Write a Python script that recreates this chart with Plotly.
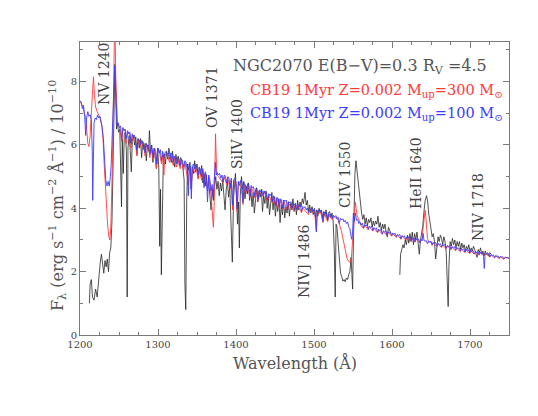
import plotly.graph_objects as go

# ---------------- data ----------------
obs_wave = [1212.0,1213.0,1214.5,1216.0,1218.0,1220.0,1222.0,1224.0,1226.0,1227.5,1229.0,1230.5,1232.0,1233.5,1235.0,1236.5,1238.0,1239.5,
 1241.0,1242.0,1243.0,1244.0,1244.8,1245.8,1246.8,1248.0,1249.5,1251.0,1252.0,1253.2,1254.2,1255.5,1256.8,1258.0,1259.5,1260.5,1261.5,
 1263.0,1264.5,1265.8,1267.0,1268.5,1270.0,1271.5,1273.0,1274.5,1276.0,1277.5,1279.0,1280.5,1282.0,1283.5,1285.0,1286.5,1288.0,1289.0,
 1290.5,1292.0,1293.5,1295.0,1296.5,1298.0,1299.5,1301.0,1302.2,1303.2,1304.3,1305.5,1306.8,1308.0,1309.5,1311.0,1312.5,1314.0,1315.5,
 1317.0,1318.5,1320.0,1321.5,1323.0,1324.5,1326.0,1327.5,1329.0,1330.5,1332.0,1333.5,1334.5,1335.6,1336.8,1338.0,1339.5,1341.0,1342.5,
 1344.0,1345.5,1347.0,1348.5,1350.0,1351.5,1353.0,1354.5,1356.0,1357.5,1359.0,1360.5,1362.0,1363.5,1365.0,1366.5,1368.0,1369.5,1371.0,
 1372.5,1374.0,1375.5,1377.0,1378.5,1380.0,1381.5,1383.0,1384.5,1386.0,1387.5,1389.0,1390.5,1392.0,1393.5,1395.3,1396.8,1398.0,1399.3,
 1400.5,1402.0,1403.3,1404.3,1405.5,1407.0,1408.5,1410.0,1411.5,1413.0,1414.5,1416.0,1417.5,1419.0,1420.5,1422.0,1423.5,1425.0,1426.5,
 1428.0,1429.5,1431.0,1432.5,1434.0,1435.5,1437.0,1438.5,1440.0,1441.5,1443.0,1444.5,1446.0,1447.5,1449.0,1450.5,1452.0,1453.5,1455.0,
 1456.5,1458.0,1459.5,1461.0,1462.5,1464.0,1465.5,1467.0,1468.5,1470.0,1471.5,1473.0,1474.5,1476.0,1477.5,1479.0,1480.5,1482.0,1483.5,
 1485.0,1486.5,1488.5,1490.0,1491.5,1493.0,1494.5,1496.0,1497.5,1499.0,1500.5,1502.0,1503.5,1505.0,1506.5,1508.0,1509.5,1511.0,1512.5,
 1514.0,1515.5,1517.0,1518.5,1520.0,1521.5,1523.0,1524.5,1526.0,1527.2,1528.3,1529.5,1531.0,1532.5,1534.0,1535.5,1537.0,1538.5,1540.0,
 1541.5,1543.0,1544.5,1546.0,1547.5,1548.5,1549.5,1550.5,1551.5,1552.5,1553.8,1555.0,1556.5,1558.0,1559.5,1561.0,1562.5,1564.0,1565.5,
 1567.0,1568.5,1570.0,1571.5,1573.0,1574.5,1576.0,1577.5,1579.0,1580.5,1582.0,1583.5,1585.0,1586.5,1588.0,1589.5,1591.0,1592.5,1594.0,
 1595.5,1597.0,1598.5,1604.0,1610.0,1611.0,1612.5,1614.0,1615.5,1617.0,1618.5,1620.0,1621.5,1623.0,1624.5,1626.0,1627.5,1629.0,1630.5,
 1632.0,1633.5,1635.0,1636.5,1638.0,1639.5,1641.0,1642.5,1644.3,1645.8,1647.0,1648.5,1650.0,1651.5,1653.0,1654.5,1656.0,1657.5,1659.0,
 1660.5,1662.0,1663.5,1665.0,1666.5,1668.0,1669.5,1671.0,1672.0,1673.0,1674.5,1676.0,1677.5,1679.0,1680.5,1682.0,1683.5,1685.0,1686.5,
 1688.0,1689.5,1691.0,1692.5,1694.0,1695.5,1697.0,1698.5,1700.0,1701.5,1703.0,1704.5,1706.0,1707.5,1709.0,1710.5,1712.0,1713.5,1715.0,
 1716.5,1718.0,1719.5,1721.0,1722.5,1724.0,1725.5,1727.0]
obs_flux = [1.00,1.60,1.75,1.20,1.10,1.45,1.20,1.80,2.30,2.55,2.20,1.95,2.35,2.15,2.40,2.00,2.60,2.75,
 3.60,5.20,7.00,8.20,8.55,7.60,6.50,6.70,6.40,6.50,5.60,4.05,6.20,5.10,6.30,6.40,5.80,1.20,5.90,
 6.30,5.80,5.15,6.10,6.30,6.00,6.25,5.70,6.20,5.90,6.20,5.60,6.10,5.85,6.05,5.50,6.00,5.80,6.45,
 5.75,6.00,5.45,5.90,5.60,5.25,5.90,5.30,2.80,4.60,1.90,3.50,5.50,5.70,5.40,5.80,5.55,5.90,5.70,
 5.45,5.80,5.60,5.30,5.70,5.45,5.65,5.35,5.60,5.50,5.25,4.90,1.60,0.80,4.20,5.40,5.20,5.45,4.60,
 5.30,5.10,5.50,5.15,5.40,4.95,5.30,5.05,5.35,4.80,5.10,4.70,5.05,4.55,4.90,4.40,3.95,4.60,4.25,
 4.70,5.00,4.60,4.85,4.40,4.80,4.55,4.90,4.40,3.95,4.60,4.85,4.35,4.70,3.60,2.30,4.30,4.90,5.10,
 4.40,3.50,4.20,2.75,4.40,5.00,4.60,4.85,4.30,4.70,4.45,4.80,4.25,4.60,4.05,4.50,3.85,4.40,4.65,
 4.20,4.55,4.35,4.60,3.90,4.40,4.15,4.55,4.00,4.35,3.80,4.30,4.50,3.95,4.35,3.75,4.20,3.90,4.30,
 3.55,4.10,3.80,4.25,3.70,4.05,3.85,4.20,3.75,4.15,3.95,4.30,3.90,4.15,3.80,4.25,3.95,4.20,4.05,
 4.30,4.15,4.50,4.10,4.25,3.90,4.10,3.85,4.05,3.80,4.00,3.70,3.95,3.75,4.00,3.85,3.95,3.70,3.90,
 3.75,3.95,3.65,3.85,3.90,3.70,3.85,3.60,2.70,1.20,3.50,3.40,2.90,2.30,1.95,1.85,1.70,1.75,1.68,
 1.80,1.75,1.90,2.00,2.45,1.90,1.45,2.90,4.20,5.10,5.50,5.20,4.90,4.50,4.10,3.85,3.65,3.80,3.50,
 3.70,3.45,3.65,3.55,3.70,3.40,3.60,3.45,3.60,3.50,3.75,3.40,3.55,3.30,3.50,3.35,3.50,3.25,3.10,
 3.40,3.30,3.20,None,1.90,2.55,2.70,2.85,2.75,3.00,2.85,3.15,2.90,3.20,2.95,3.25,2.85,3.20,3.00,
 3.25,2.90,2.55,3.00,3.20,3.45,3.90,4.25,4.40,4.20,3.85,3.55,3.35,3.10,3.20,2.95,2.40,2.90,3.10,
 2.95,3.15,3.05,2.85,3.10,2.95,2.60,1.80,0.90,2.20,2.95,2.80,3.05,2.85,3.00,2.75,2.95,2.80,2.95,
 2.70,2.90,2.75,2.85,2.65,2.80,2.70,2.85,2.60,2.75,2.65,2.80,2.70,2.55,2.45,2.70,2.60,2.75,2.55,
 2.65,2.50,2.65,2.55,2.60,2.50,2.60,2.55]

m100_wave = [1200.0,1201.5,1203.0,1204.5,1206.0,1207.3,1208.5,1210.0,1211.5,1213.0,1214.5,1215.7,1216.3,1217.0,1218.0,1219.5,1221.0,
 1222.5,1224.0,1225.5,1227.0,1228.5,1230.0,1231.5,1233.0,1234.5,1236.0,1237.5,1239.0,1240.0,1241.0,1242.3,1243.5,1244.5,1245.5,1246.5,
 1247.5,1249.0,1250.5,1252.0,1253.5,1255.0,1256.5,1258.0,1259.5,1261.0,1262.5,1264.0,1265.5,1267.0,1268.5,1270.0,1271.5,1273.0,1274.5,
 1276.0,1277.5,1279.0,1280.5,1282.0,1283.5,1285.0,1286.5,1288.0,1289.5,1291.0,1292.5,1294.0,1295.5,1297.0,1298.5,1300.0,1301.5,1303.0,
 1304.5,1306.0,1307.5,1309.0,1310.5,1312.0,1313.5,1315.0,1316.5,1318.0,1319.5,1321.0,1322.5,1324.0,1325.5,1327.0,1328.5,1330.0,1331.5,
 1333.0,1334.5,1336.0,1337.5,1339.0,1340.0,1341.5,1342.8,1344.0,1345.5,1347.0,1348.5,1350.0,1351.5,1353.0,1354.5,1356.0,1357.5,1359.0,
 1360.5,1362.0,1363.5,1365.0,1366.5,1368.0,1369.5,1370.7,1372.0,1373.5,1374.8,1376.0,1377.5,1379.0,1380.5,1382.0,1383.5,1385.0,1386.5,
 1388.0,1389.5,1391.0,1392.5,1394.0,1395.5,1397.0,1398.5,1400.0,1401.5,1403.0,1404.5,1406.0,1407.5,1409.0,1410.5,1412.0,1413.5,1415.0,
 1416.5,1418.0,1419.5,1421.0,1422.5,1424.0,1425.5,1427.0,1428.5,1430.0,1431.5,1433.0,1434.5,1436.0,1437.5,1439.0,1440.5,1442.0,1443.5,
 1445.0,1446.5,1448.0,1449.5,1451.0,1452.5,1454.0,1455.5,1457.0,1458.5,1460.0,1461.5,1463.0,1464.5,1466.0,1467.5,1469.0,1470.5,1472.0,
 1473.5,1475.0,1476.5,1478.0,1479.5,1481.0,1482.5,1484.0,1485.5,1487.0,1488.5,1490.0,1491.5,1493.0,1494.5,1496.0,1497.5,1499.0,
 1500.5,1502.0,1503.0,1504.0,1505.5,1507.0,1508.5,1510.0,1511.5,1513.0,1514.5,1516.0,1517.5,1519.0,1520.5,1522.0,1523.5,1525.0,1526.5,
 1528.0,1529.5,1531.0,1532.5,1534.0,1535.5,1537.0,1538.5,1540.0,1541.5,1543.0,1544.5,1546.0,1547.5,1548.5,1549.5,1550.5,1551.5,1553.0,
 1554.5,1556.0,1557.5,1559.0,1560.5,1562.0,1563.5,1565.0,1566.5,1568.0,1569.5,1571.0,1572.5,1574.0,1575.5,1577.0,1578.5,1580.0,1581.5,
 1583.0,1584.5,1586.0,1587.5,1589.0,1590.5,1592.0,1593.5,1595.0,1596.5,1598.0,1599.5,1601.0,1602.5,1604.0,1605.5,1607.0,1608.5,1610.0,
 1611.5,1613.0,1614.5,1616.0,1617.5,1619.0,1620.5,1622.0,1623.5,1625.0,1626.5,1628.0,1629.5,1631.0,1632.5,1634.0,1635.5,1637.0,1638.5,
 1640.0,1641.0,1642.5,1644.0,1645.5,1647.0,1648.5,1650.0,1651.5,1653.0,1654.5,1656.0,1657.5,1659.0,1660.5,1662.0,1663.5,1665.0,1666.5,
 1668.0,1669.5,1671.0,1672.5,1674.0,1675.5,1677.0,1678.5,1680.0,1681.5,1683.0,1684.5,1686.0,1687.5,1689.0,1690.5,1692.0,1693.5,1695.0,
 1696.5,1698.0,1699.5,1701.0,1702.5,1704.0,1705.5,1707.0,1708.5,1710.0,1711.5,1713.0,1714.5,1716.0,1717.3,1718.3,1719.3,1721.0,1722.5,
 1724.0,1725.5,1727.0,1728.5,1730.0,1731.5,1733.0,1734.5,1736.0,1737.5,1739.0,1740.5,1742.0,1743.5,1745.0,1746.5,1748.0,1750.0]
m100_flux = [7.40,7.35,7.15,7.25,6.90,6.30,6.85,7.05,6.90,6.95,6.80,5.80,4.25,6.30,6.70,6.85,6.80,
 6.95,6.85,6.90,6.75,6.55,6.20,5.60,4.90,4.70,4.85,4.70,5.00,5.40,6.20,7.20,7.90,8.50,7.80,6.90,
 6.60,6.70,6.55,6.60,6.20,6.55,6.45,6.50,6.20,6.45,6.35,6.40,6.05,6.35,6.25,6.30,6.10,5.85,6.20,
 6.15,6.00,6.15,6.10,5.95,5.75,6.05,5.95,6.00,5.70,5.95,5.85,5.60,5.90,5.80,5.40,5.90,5.75,5.85,
 5.50,5.80,5.60,5.75,5.80,5.70,5.75,5.55,5.75,5.70,5.45,5.65,5.60,5.40,5.60,5.55,5.35,5.55,5.50,
 5.30,5.50,5.45,5.20,4.40,5.40,5.30,4.30,5.35,5.40,5.25,5.38,5.30,5.05,5.30,5.20,5.00,5.25,4.65,
 5.15,5.05,4.20,5.05,4.90,4.55,4.75,4.35,4.90,5.45,5.05,5.12,5.05,5.10,4.95,5.05,4.85,5.05,5.00,
 4.80,5.00,4.95,4.65,4.95,4.10,4.90,4.95,4.82,3.98,4.85,4.72,4.88,4.80,4.18,4.78,4.75,4.55,4.78,
 4.70,4.38,4.72,4.65,4.68,4.38,4.62,4.58,4.28,4.58,4.52,4.60,4.40,4.55,4.46,4.50,4.25,4.46,4.40,
 4.45,4.20,4.40,4.36,4.10,4.35,4.30,4.05,4.30,4.26,4.00,4.26,4.22,4.26,3.95,4.21,4.17,4.21,4.00,
 4.16,4.12,4.15,3.95,4.11,4.07,4.10,3.90,4.06,4.02,4.05,3.95,4.01,3.86,4.00,3.96,3.99,3.90,
 3.98,3.70,3.25,3.85,3.95,3.88,3.93,3.84,3.58,3.88,3.83,3.87,3.62,3.82,3.78,3.82,3.68,3.78,3.73,
 3.77,3.67,3.72,3.52,3.68,3.63,3.67,3.57,3.62,3.52,3.57,3.42,3.35,3.12,3.02,3.28,3.85,3.58,3.85,
 3.62,3.64,3.52,3.56,3.47,3.53,3.38,3.49,3.44,3.48,3.34,3.44,3.40,3.43,3.30,3.39,3.35,3.38,3.25,
 3.34,3.30,3.33,3.20,3.29,3.26,3.29,3.16,3.26,3.22,3.25,3.14,3.22,3.18,3.21,3.10,3.18,3.14,3.17,
 3.04,3.14,3.10,3.13,3.02,3.10,3.07,3.10,2.99,3.07,3.03,3.06,2.95,3.04,3.00,3.03,2.92,3.01,2.97,
 3.20,2.98,2.96,2.98,2.88,2.96,2.93,2.96,2.85,2.93,2.90,2.92,2.81,2.89,2.86,2.88,2.78,2.86,2.83,
 2.85,2.74,2.83,2.80,2.82,2.71,2.79,2.76,2.79,2.68,2.76,2.73,2.75,2.65,2.73,2.70,2.72,2.62,2.70,
 2.67,2.69,2.59,2.67,2.64,2.66,2.57,2.64,2.61,2.63,2.54,2.61,2.58,2.60,2.48,2.10,2.52,2.57,2.54,
 2.56,2.47,2.54,2.51,2.53,2.44,2.51,2.48,2.50,2.42,2.48,2.46,2.47,2.40,2.46,2.44,2.45,2.43]

m300_wave = [1200.0,1202.0,1204.0,1205.5,1207.0,1208.5,1210.0,1211.5,1213.0,1214.5,1216.0,1217.3,1218.5,1220.0,1222.0,1224.0,1226.0,
 1228.0,1229.5,1231.0,1232.5,1234.0,1235.5,1237.0,1238.3,1239.5,1240.5,1241.5,1242.5,1243.5,1244.3,1245.0,1245.8,1246.8,1248.0,1249.5,
 1251.0,1253.5,1255.0,1258.0,1259.5,1261.0,1264.0,1265.5,1267.0,1270.0,1271.5,1273.0,1274.5,1277.5,1279.0,1282.0,1283.5,1285.0,1288.0,
 1289.5,1291.0,1294.0,1295.5,1298.0,1299.5,1302.0,1304.5,1306.0,1307.5,1309.0,1312.0,1315.0,1316.5,1319.5,1321.0,1324.0,1325.5,1328.5,
 1330.0,1333.0,1334.5,1337.5,1339.0,1340.5,1342.8,1344.0,1347.0,1348.5,1351.5,1353.0,1356.0,1357.5,1359.0,1360.5,1363.5,1365.0,1367.0,
 1368.5,1369.8,1371.0,1372.0,1373.0,1373.8,1374.6,1375.6,1377.5,1380.5,1383.5,1385.0,1388.0,1389.5,1392.5,1394.0,1395.5,1397.0,1400.0,
 1401.5,1403.0,1406.0,1409.0,1410.5,1413.5,1415.0,1418.0,1419.5,1424.0,1425.5,1428.5,1430.0,1434.5,1436.0,1440.5,1442.0,1446.5,1448.0,
 1451.0,1452.5,1455.5,1457.0,1460.0,1461.5,1466.0,1467.5,1472.0,1473.5,1478.0,1479.5,1484.0,1485.5,1490.0,1493.0,1494.5,1499.0,1500.5,
 1503.0,1504.0,1508.5,1511.5,1513.0,1517.5,1519.0,1523.5,1525.0,1528.0,1531.0,1533.0,1535.0,1537.5,1540.0,1542.5,1544.5,1546.5,1548.0,
 1549.5,1550.8,1552.0,1553.0,1554.0,1555.0,1556.5,1558.0,1560.5,1563.5,1565.0,1569.5,1571.0,1575.5,1577.0,1581.5,1583.0,1587.5,1589.0,
 1593.5,1595.0,1599.5,1601.0,1605.5,1607.0,1611.5,1613.0,1617.5,1619.0,1623.5,1625.0,1629.5,1631.0,1635.5,1637.0,1638.5,1640.0,1641.5,
 1642.5,1643.5,1644.5,1645.5,1647.0,1650.0,1651.5,1653.0,1657.5,1659.0,1663.5,1665.0,1669.5,1671.0,1675.5,1677.0,1681.5,1683.0,1687.5,
 1689.0,1693.5,1695.0,1699.5,1701.0,1705.5,1707.0,1711.5,1713.0,1716.0,1717.5,1718.5,1720.0,1725.5,1727.0,1731.5,1733.0,1737.5,1739.0,
 1743.5,1745.0,1750.0]
m300_flux = [7.38,7.30,7.20,7.00,6.90,6.50,6.05,5.95,6.30,7.00,7.80,8.15,7.60,7.20,7.05,6.95,6.85,
 6.60,6.20,5.40,4.60,3.90,3.45,3.10,3.00,3.40,4.20,5.30,6.80,8.60,9.80,9.60,8.20,7.10,6.70,6.60,
 6.55,6.10,6.50,6.45,6.05,6.40,6.35,5.90,6.30,6.25,6.00,5.65,6.15,5.95,6.10,5.90,5.65,6.00,5.95,
 5.60,5.90,5.50,5.85,5.25,5.85,5.75,5.40,5.70,5.05,5.70,5.65,5.45,5.70,5.35,5.60,5.30,5.55,5.25,
 5.50,5.20,5.45,5.05,4.75,5.30,4.70,5.28,5.12,5.32,4.92,5.22,4.88,5.18,4.78,5.08,4.58,4.98,4.68,
 4.25,3.70,3.40,4.10,5.50,6.35,5.60,5.05,5.00,4.90,4.80,5.00,4.75,4.95,4.60,4.90,3.95,4.85,4.75,
 3.90,4.80,4.85,4.12,4.75,4.50,4.72,4.33,4.68,4.33,4.58,4.23,4.53,4.38,4.53,4.22,4.42,4.17,4.37,
 4.06,4.32,4.00,4.26,3.96,4.21,3.92,4.16,3.96,4.11,3.92,4.06,3.86,4.01,3.90,3.80,3.96,3.85,3.96,
 3.30,3.80,3.88,3.55,3.83,3.58,3.78,3.64,3.74,3.70,3.62,3.45,3.30,3.00,2.70,2.40,2.32,2.30,2.45,
 3.00,3.70,4.05,4.20,4.00,3.80,3.70,3.60,3.45,3.36,3.47,3.32,3.42,3.28,3.37,3.23,3.32,3.18,3.27,
 3.14,3.24,3.12,3.20,3.08,3.16,3.02,3.12,3.00,3.08,2.97,3.05,2.93,3.02,2.92,3.00,3.05,3.40,3.85,
 3.94,3.70,3.30,3.05,2.94,2.94,2.83,2.91,2.79,2.87,2.76,2.84,2.72,2.81,2.69,2.77,2.66,2.74,2.63,
 2.71,2.60,2.68,2.57,2.65,2.55,2.62,2.52,2.59,2.58,2.50,2.53,2.57,2.46,2.53,2.43,2.50,2.41,2.47,
 2.39,2.45,2.42]

line_labels = ["NV 1240", "OV 1371", "SiIV 1400", "NIV] 1486", "CIV 1550", "HeII 1640", "NIV 1718"]
title_text = "NGC2070 E(B\u2212V)=0.3 R<sub>V</sub> =4.5"
label_300 = "CB19 1Myr Z=0.002 M<sub>up</sub>=300 M<sub>\u2299</sub>"
label_100 = "CB19 1Myr Z=0.002 M<sub>up</sub>=100 M<sub>\u2299</sub>"
x_title = "Wavelength (\u00c5)"
y_title = "F<sub>\u03bb</sub> (erg s<sup>\u22121</sup> cm<sup>\u22122</sup> \u00c5<sup>\u22121</sup>) / 10<sup>\u221210</sup>"

# ---------------- figure ----------------
FONT = "DejaVu Serif"
RED = "#ff3b3b"
BLUE = "#3b3bff"
GRID = "#7a7a7a"
TXT = "#555555"

fig = go.Figure()
fig.add_trace(go.Scatter(x=obs_wave, y=obs_flux, mode="lines",
                         line=dict(color="#262626", width=0.8), connectgaps=False))
fig.add_trace(go.Scatter(x=m300_wave, y=m300_flux, mode="lines",
                         line=dict(color=RED, width=0.9)))
fig.add_trace(go.Scatter(x=m100_wave, y=m100_flux, mode="lines",
                         line=dict(color=BLUE, width=0.9)))

# page has an 8px body margin: target screen frame is x 80..509, y 42..335
OFF = 8
W, H = 530, 408
L, R, T, B = 80, 509, 42, 335
def px(x):
    return (x - L) / (R - L)
def py(y):
    return (B - y) / (B - T)

ann = []
pos = [(104, 74), (212, 98), (237, 134), (304, 261), (345, 175), (416, 173), (478, 207)]
for lab, (cx, cy) in zip(line_labels, pos):
    ann.append(dict(text=lab, x=px(cx), y=py(cy), xref="paper", yref="paper",
                    textangle=-90, showarrow=False, xanchor="center", yanchor="middle",
                    font=dict(family=FONT, size=14, color="#444444")))

ann.append(dict(text=title_text, x=px(231), y=py(66), xref="paper", yref="paper",
                showarrow=False, xanchor="left", yanchor="middle",
                font=dict(family=FONT, size=16, color=TXT)))
ann.append(dict(text=label_300, x=px(248), y=py(91), xref="paper", yref="paper",
                showarrow=False, xanchor="left", yanchor="middle",
                font=dict(family=FONT, size=14.5, color=RED)))
ann.append(dict(text=label_100, x=px(248), y=py(114), xref="paper", yref="paper",
                showarrow=False, xanchor="left", yanchor="middle",
                font=dict(family=FONT, size=14.5, color=BLUE)))
ann.append(dict(text=x_title, x=px(295), y=py(363), xref="paper", yref="paper",
                showarrow=False, xanchor="center", yanchor="middle",
                font=dict(family=FONT, size=16, color=TXT)))
ann.append(dict(text=y_title, x=px(57), y=py(196), xref="paper", yref="paper",
                textangle=-90, showarrow=False, xanchor="center", yanchor="middle",
                font=dict(family=FONT, size=16, color=TXT)))

axis_common = dict(showline=True, linecolor=GRID, linewidth=1, mirror="ticks",
                   ticks="inside", tickcolor=GRID, tickwidth=1, ticklen=6,
                   showgrid=False, zeroline=False,
                   tickfont=dict(family=FONT, size=10, color="#444444"))

fig.update_layout(
    width=W, height=H,
    margin=dict(l=L - OFF, r=W + OFF - R, t=T - OFF, b=H + OFF - B),
    paper_bgcolor="white", plot_bgcolor="white",
    showlegend=False,
    annotations=ann,
    xaxis=dict(range=[1200, 1750], dtick=100, tick0=1200,
               minor=dict(dtick=25, ticks="inside", ticklen=3, tickcolor=GRID, showgrid=False),
               **axis_common),
    yaxis=dict(range=[0, 9.25], dtick=2, tick0=0,
               minor=dict(dtick=1, ticks="inside", ticklen=3, tickcolor=GRID, showgrid=False),
               **axis_common),
)

fig.write_html("out.html")
